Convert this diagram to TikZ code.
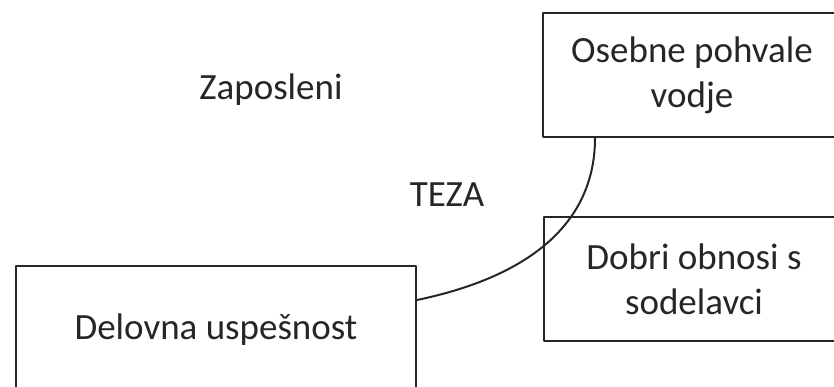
\documentclass[tikz,border=0pt]{standalone}
\usepackage{fontspec}
\setmainfont{Carlito}
\usepackage{tikz}
\usetikzlibrary{positioning}
\usetikzlibrary{calc}

\definecolor{inkgray}{HTML}{262626}

\tikzset{
  box/.style={draw=inkgray,line width=2pt,align=center,text=inkgray,
    font=\fontsize{37}{45}\selectfont,anchor=north west},
  tag/.style={text=inkgray,font=\fontsize{37}{45}\selectfont},
  link/.style={draw=inkgray,line width=2pt}
}

\begin{document}
\begin{tikzpicture}[line cap=round,line join=round,x=1pt,y=-1pt]
\useasboundingbox (0,0) rectangle (834,387);
\clip (0,0) rectangle (834,387);
% boxes
\node[box,minimum width=400pt,minimum height=128pt] (perf) at (15,265) {Delovna uspešnost};
\node[box,minimum width=298pt,minimum height=124pt] (praise) at (542,12) {Osebne pohvale\\vodje};
\node[box,minimum width=300pt,minimum height=124pt] (coworkers) at (543,216) {Dobri obnosi s\\sodelavci};
% free labels
\node[tag] (staff) at (271,90) {Zaposleni};
\node[tag] (thesis) at (447,195) {TEZA};
% curve
\draw[link] ([yshift=-35pt]perf.north east) .. controls +(120,-25) and +(0,80) .. ([xshift=53pt]praise.south west);
\end{tikzpicture}
\end{document}
